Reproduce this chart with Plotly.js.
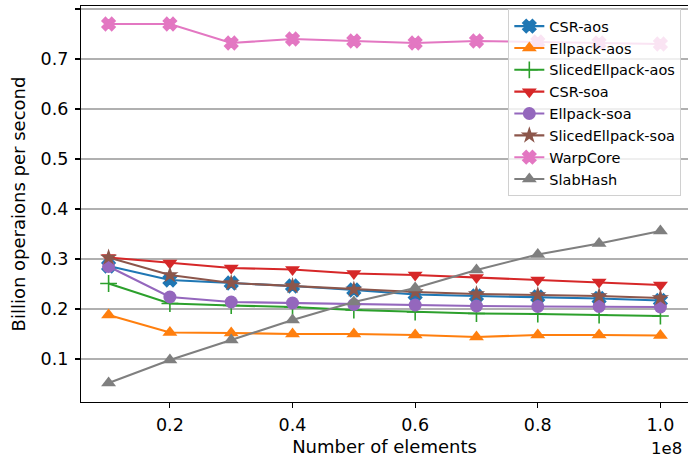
<!DOCTYPE html>
<html>
<head>
<meta charset="utf-8">
<script src="https://cdn.plot.ly/plotly-3.0.1.min.js"></script>
<style>html,body{margin:0;padding:0;background:#fff;}#chart{width:688px;height:463px;}</style>
</head>
<body>
<div id="chart"></div>
<script>
const elements = [0.1e8, 0.2e8, 0.3e8, 0.4e8, 0.5e8, 0.6e8, 0.7e8, 0.8e8, 0.9e8, 1.0e8];
const csrAos = [0.286, 0.258, 0.252, 0.246, 0.238, 0.229, 0.226, 0.224, 0.221, 0.217];
const ellpackAos = [0.188, 0.153, 0.152, 0.150, 0.150, 0.148, 0.144, 0.148, 0.148, 0.147];
const slicedEllpackAos = [0.251, 0.211, 0.207, 0.204, 0.198, 0.194, 0.191, 0.190, 0.188, 0.186];
const csrSoa = [0.303, 0.292, 0.282, 0.279, 0.271, 0.268, 0.263, 0.258, 0.254, 0.248];
const ellpackSoa = [0.285, 0.224, 0.214, 0.212, 0.209, 0.208, 0.206, 0.205, 0.205, 0.204];
const slicedEllpackSoa = [0.303, 0.268, 0.252, 0.246, 0.239, 0.234, 0.230, 0.228, 0.226, 0.222];
const warpCore = [0.770, 0.770, 0.732, 0.740, 0.736, 0.732, 0.736, 0.734, 0.732, 0.730];
const slabHash = [0.052, 0.098, 0.138, 0.178, 0.214, 0.242, 0.278, 0.309, 0.331, 0.356];

const seriesNames = ['CSR-aos','Ellpack-aos','SlicedEllpack-aos','CSR-soa','Ellpack-soa','SlicedEllpack-soa','WarpCore','SlabHash'];
const seriesValues = [csrAos, ellpackAos, slicedEllpackAos, csrSoa, ellpackSoa, slicedEllpackSoa, warpCore, slabHash];
const colors = ['#1f77b4','#ff7f0e','#2ca02c','#d62728','#9467bd','#8c564b','#e377c2','#7f7f7f'];
const symbols = ['x','triangle-up','cross-thin','triangle-down','circle','star','x','triangle-up'];
const sizes = [11,13,12,13,13,13,11,13];
const outline = [2,0,1.6,0,0,0,2,0];

const traces = seriesNames.map((n,i)=>({
  x: elements, y: seriesValues[i], name: n, type:'scatter', mode:'lines+markers',
  line:{color:colors[i], width:2.1},
  marker:{symbol:symbols[i], size:sizes[i], color:colors[i],
    line:{color:colors[i], width: outline[i]}}
}));

const layout = {
  width:688, height:463,
  margin:{l:81, r:0, t:6, b:61},
  paper_bgcolor:'#fff', plot_bgcolor:'#fff',
  font:{family:'DejaVu Sans', color:'#000', size:17.5},
  showlegend:true,
  legend:{x:0.989, xanchor:'right', y:0.992, yanchor:'top',
    bgcolor:'rgba(255,255,255,0.8)', bordercolor:'#d0d0d0', borderwidth:1,
    font:{size:14.5, family:'DejaVu Sans'}},
  xaxis:{range:[0.055e8, 1.045e8], tickvals:[0.2e8,0.4e8,0.6e8,0.8e8,1.0e8],
    ticktext:['0.2','0.4','0.6','0.8','1.0'],
    showgrid:false, zeroline:false, showline:true, linecolor:'#000', linewidth:1.1, mirror:true,
    ticks:'outside', ticklen:5, tickwidth:1.1, tickcolor:'#000',
    tickfont:{size:17.5}, ticklabelstandoff:2,
    title:{text:'Number of elements', font:{size:18}, standoff:6}},
  yaxis:{range:[0.014, 0.806], tickvals:[0.1,0.2,0.3,0.4,0.5,0.6,0.7,0.8],
    ticktext:['0.1','0.2','0.3','0.4','0.5','0.6','0.7','0.8'],
    showgrid:true, gridcolor:'#b0b0b0', gridwidth:1.1, zeroline:false,
    showline:true, linecolor:'#000', linewidth:1.1, mirror:true,
    ticks:'outside', ticklen:5, tickwidth:1.1, tickcolor:'#000',
    tickfont:{size:17.5}, ticklabelstandoff:3,
    title:{text:'Billion operaions per second', font:{size:18}, standoff:10}},
  annotations:[{text:'1e8', xref:'paper', yref:'paper', x:1, y:0, xanchor:'right', yanchor:'top',
    yshift:-35, xshift:-4, showarrow:false, font:{size:16.5}}]
};
Plotly.newPlot('chart', traces, layout, {displayModeBar:false, staticPlot:true});
</script>
</body>
</html>
